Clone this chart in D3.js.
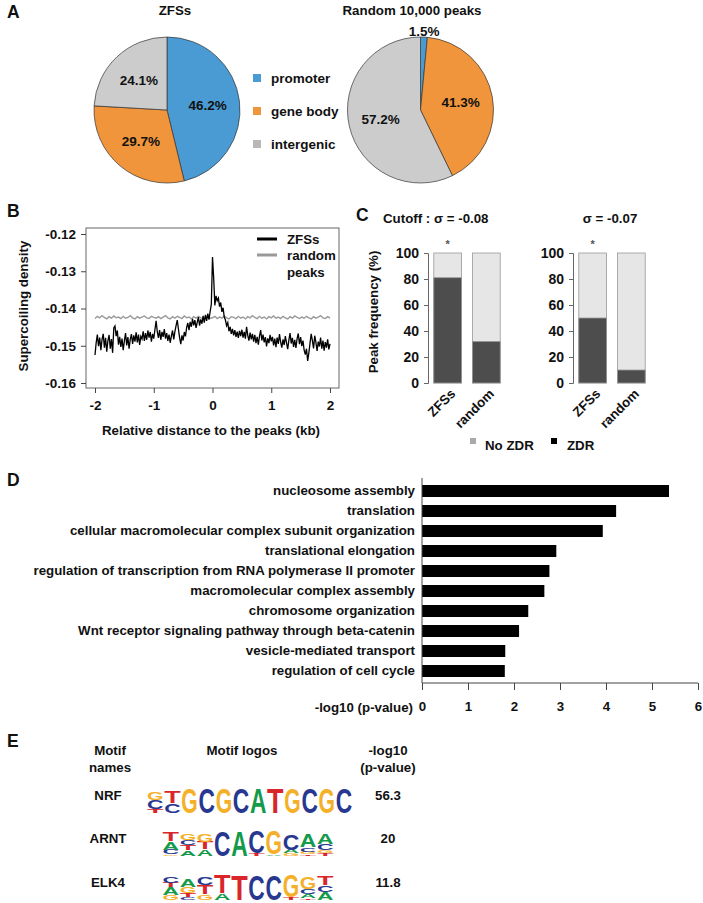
<!DOCTYPE html>
<html><head><meta charset="utf-8">
<script src="https://cdn.jsdelivr.net/npm/d3@7"></script>
<style>
body{margin:0;background:#fff;}
svg text{font-family:"Liberation Sans",Arial,Helvetica,sans-serif;font-weight:bold;fill:#111;}
</style></head><body>
<svg id="fig" width="703" height="903"></svg>
<script>
// ---------------- DATA ----------------
// Panel A
const pieCategories = ["promoter", "gene body", "intergenic"];
const pieColors = ["#4a9bd3", "#f0953b", "#cccccc"];
const pieTitles = ["ZFSs", "Random 10,000 peaks"];
const zfsPieValues = [46.2, 29.7, 24.1];
const randomPieValues = [1.5, 41.3, 57.2];

// Panel B (x from -2 to 2 kb)
const bXTicks = [-2, -1, 0, 1, 2];
const bYTicks = [-0.16, -0.15, -0.14, -0.13, -0.12];
const zfsDensity = [
-0.1525,-0.1492,-0.1470,-0.1501,-0.1478,-0.1512,-0.1483,-0.1468,-0.1505,-0.1479,
-0.1516,-0.1486,-0.1471,-0.1508,-0.1482,-0.1519,-0.1452,-0.1447,-0.1474,-0.1459,
-0.1497,-0.1476,-0.1503,-0.1481,-0.1512,-0.1487,-0.1466,-0.1499,-0.1477,-0.1508,
-0.1483,-0.1469,-0.1495,-0.1472,-0.1489,-0.1464,-0.1491,-0.1470,-0.1498,-0.1475,
-0.1482,-0.1461,-0.1487,-0.1466,-0.1484,-0.1459,-0.1478,-0.1463,-0.1489,-0.1468,
-0.1481,-0.1457,-0.1433,-0.1462,-0.1479,-0.1458,-0.1484,-0.1463,-0.1476,-0.1455,
-0.1481,-0.1466,-0.1487,-0.1470,-0.1492,-0.1474,-0.1459,-0.1483,-0.1462,-0.1446,
-0.1431,-0.1455,-0.1478,-0.1496,-0.1472,-0.1486,-0.1463,-0.1475,-0.1451,-0.1439,
-0.1458,-0.1436,-0.1449,-0.1428,-0.1445,-0.1431,-0.1452,-0.1437,-0.1423,-0.1446,
-0.1429,-0.1441,-0.1420,-0.1438,-0.1417,-0.1433,-0.1414,-0.1430,-0.1408,-0.1389,
-0.1262,-0.1318,-0.1392,-0.1366,-0.1379,-0.1372,-0.1395,-0.1384,-0.1409,-0.1398,
-0.1423,-0.1431,-0.1446,-0.1438,-0.1461,-0.1449,-0.1468,-0.1455,-0.1472,-0.1458,
-0.1476,-0.1462,-0.1479,-0.1460,-0.1474,-0.1457,-0.1478,-0.1463,-0.1481,-0.1449,
-0.1472,-0.1486,-0.1465,-0.1483,-0.1468,-0.1489,-0.1471,-0.1493,-0.1476,-0.1497,
-0.1474,-0.1458,-0.1486,-0.1470,-0.1491,-0.1477,-0.1502,-0.1480,-0.1493,-0.1471,
-0.1488,-0.1476,-0.1499,-0.1481,-0.1504,-0.1478,-0.1495,-0.1469,-0.1490,-0.1505,
-0.1483,-0.1498,-0.1474,-0.1492,-0.1509,-0.1485,-0.1466,-0.1494,-0.1479,-0.1503,
-0.1484,-0.1506,-0.1481,-0.1467,-0.1496,-0.1477,-0.1501,-0.1486,-0.1512,-0.1524,
-0.1508,-0.1541,-0.1519,-0.1493,-0.1468,-0.1486,-0.1507,-0.1473,-0.1491,-0.1514,
-0.1489,-0.1502,-0.1478,-0.1508,-0.1486,-0.1513,-0.1490,-0.1505,-0.1483,-0.1510,
-0.1495];
const randomDensity = [
-0.1427,-0.1421,-0.1425,-0.1419,-0.1424,-0.1428,-0.1422,-0.1426,-0.1420,-0.1425,
-0.1423,-0.1427,-0.1421,-0.1426,-0.1424,-0.1419,-0.1425,-0.1428,-0.1422,-0.1426,
-0.1423,-0.1420,-0.1425,-0.1427,-0.1421,-0.1424,-0.1426,-0.1422,-0.1427,-0.1423,
-0.1419,-0.1425,-0.1428,-0.1422,-0.1426,-0.1421,-0.1424,-0.1427,-0.1420,-0.1425,
-0.1423,-0.1428,-0.1422,-0.1426,-0.1421,-0.1425,-0.1427,-0.1422,-0.1424,-0.1426,
-0.1425,
-0.1421,-0.1427,-0.1423,-0.1426,-0.1420,-0.1425,-0.1428,-0.1422,-0.1424,-0.1427,
-0.1421,-0.1426,-0.1423,-0.1428,-0.1422,-0.1425,-0.1419,-0.1424,-0.1427,-0.1421,
-0.1426,-0.1423,-0.1428,-0.1422,-0.1425,-0.1420,-0.1426,-0.1423,-0.1427,-0.1421,
-0.1425,-0.1428,-0.1422,-0.1426,-0.1420,-0.1424,-0.1427,-0.1423,-0.1426,-0.1421,
-0.1425,-0.1428,-0.1422,-0.1426,-0.1423,-0.1419,-0.1425,-0.1427,-0.1422,-0.1426];
const bSeriesNames = ["ZFSs", "random", "peaks"];

// Panel C
const cCutoffs = ["Cutoff :  \u03c3 = -0.08", "\u03c3 = -0.07"];
const cCategories = ["ZFSs", "random"];
const zdrCutoff008 = [81, 32];
const zdrCutoff007 = [50, 10];
const cYTicks = [0, 20, 40, 60, 80, 100];
const cSignificant = [true, false];
const cLegend = ["No ZDR", "ZDR"];

// Panel D
const goTerms = ["nucleosome assembly", "translation", "cellular macromolecular complex subunit organization",
  "translational elongation", "regulation of transcription from RNA polymerase II promoter",
  "macromolecular complex assembly", "chromosome organization",
  "Wnt receptor signaling pathway through beta-catenin", "vesicle-mediated transport", "regulation of cell cycle"];
const goLog10P = [5.37, 4.22, 3.93, 2.92, 2.77, 2.66, 2.31, 2.11, 1.81, 1.80];
const dXTicks = [0, 1, 2, 3, 4, 5, 6];

// Panel E
const motifNames = ["NRF", "ARNT", "ELK4"];
const motifLog10P = ["56.3", "20", "11.8"];
const nrfLogo = [[["G",0.32],["C",0.36],["T",0.14]], [["T",0.45],["C",0.38]], [["G",1]], [["C",1]], [["G",1]], [["C",1]],
  [["A",0.97]], [["T",1]], [["G",1]], [["C",1]], [["G",1]], [["C",1]]];
const arntLogo = [[["T",0.38],["A",0.32],["C",0.18],["G",0.05]], [["G",0.27],["C",0.2],["T",0.2],["A",0.2]],
  [["G",0.33],["T",0.3],["A",0.24]], [["C",1]], [["A",1]], [["C",0.86],["T",0.08]], [["G",0.94],["A",0.04]],
  [["C",0.62],["A",0.15],["G",0.08]], [["A",0.52],["C",0.17],["G",0.1],["T",0.05]], [["A",0.4],["C",0.25],["G",0.1],["T",0.1]]];
const elk4Logo = [[["C",0.27],["T",0.18],["A",0.3],["G",0.18]], [["A",0.3],["G",0.25],["T",0.17],["C",0.08]],
  [["C",0.3],["T",0.35],["G",0.22]], [["T",0.72],["A",0.24]], [["T",1]], [["C",1]], [["C",1]],
  [["G",0.86],["T",0.1]], [["G",0.45],["C",0.2],["A",0.15],["T",0.05]], [["T",0.35],["C",0.25],["A",0.3]]];
const motifLogos = [nrfLogo, arntLogo, elk4Logo];
const letterColors = {A: "#139a4a", C: "#28378f", G: "#f5b02a", T: "#d8262b"};

// ---------------- DRAW ----------------
const svg = d3.select("#fig");
function txt(parent, x, y, s, size, anchor) {
  return parent.append("text").attr("x", x).attr("y", y).attr("font-size", size)
    .attr("text-anchor", anchor || "start").attr("dominant-baseline", "central").text(s);
}
// panel letters
[["A", 7, 12], ["B", 7, 211], ["C", 356, 215], ["D", 7, 480], ["E", 7, 741]].forEach(p => txt(svg, p[1], p[2], p[0], 17.5));

// ---- Panel A ----
const R = 73;
const pie = d3.pie().sort(null).value(d => d);
const arcGen = d3.arc().innerRadius(0).outerRadius(R);
function drawPie(cx, cy, values, title, titleX) {
  const g = svg.append("g").attr("transform", `translate(${cx},${cy})`);
  const arcs = pie(values);
  g.selectAll("path").data(arcs).join("path").attr("d", arcGen)
    .attr("fill", (d, i) => pieColors[i]).attr("stroke", "#333").attr("stroke-width", 0.7);
  arcs.forEach(a => {
    const r = a.value < 5 ? R * 1.08 : R * 0.56;
    const c = d3.arc().innerRadius(r).outerRadius(r).centroid(a);
    txt(g, c[0], c[1], a.value.toFixed(1) + "%", 13.5, "middle");
  });
  txt(svg, titleX, 10, title, 13.3, "middle");
}
drawPie(167, 110, zfsPieValues, pieTitles[0], 175);
drawPie(420.5, 110, randomPieValues, pieTitles[1], 412);
// legend
const legA = svg.append("g");
pieCategories.forEach((c, i) => {
  const y = 78 + i * 33;
  legA.append("rect").attr("x", 253).attr("y", y - 4).attr("width", 8).attr("height", 8).attr("fill", pieColors[i] === "#cccccc" ? "#b8b8b8" : pieColors[i]);
  txt(legA, 271, y, c, 13.5);
});

// ---- Panel B ----
const bx = d3.scaleLinear().domain([-2, 2]).range([95, 330]);
const by = d3.scaleLinear().domain([-0.16, -0.12]).range([383, 234]);
const gB = svg.append("g");
gB.append("rect").attr("x", 86).attr("y", 228).attr("width", 253).attr("height", 160)
  .attr("fill", "none").attr("stroke", "#666").attr("stroke-width", 1);
const zX = d3.range(zfsDensity.length).map(i => -2 + i * 4 / (zfsDensity.length - 1));
const rX = d3.range(randomDensity.length).map(i => -2 + i * 4 / (randomDensity.length - 1));
gB.append("path").datum(randomDensity).attr("fill", "none").attr("stroke", "#999").attr("stroke-width", 1.4)
  .attr("d", d3.line().x((d, i) => bx(rX[i])).y(d => by(d)));
gB.append("path").datum(zfsDensity).attr("fill", "none").attr("stroke", "#000").attr("stroke-width", 1.3)
  .attr("d", d3.line().x((d, i) => bx(zX[i])).y(d => by(d)));
const yAxB = gB.append("g").attr("transform", "translate(86,0)").attr("color", "#444")
  .call(d3.axisLeft(by).tickValues(bYTicks).tickSize(5).tickPadding(5).tickFormat(d => d.toFixed(2)));
yAxB.select(".domain").remove();
yAxB.selectAll("text").attr("font-size", 13.5);
const xAxB = gB.append("g").attr("transform", "translate(0,388)").attr("color", "#444")
  .call(d3.axisBottom(bx).tickValues(bXTicks).tickSize(5).tickPadding(7).tickFormat(d => String(d)));
xAxB.select(".domain").remove();
xAxB.selectAll("text").attr("font-size", 13.5);
txt(gB, 211, 430, "Relative distance to the peaks (kb)", 13.3, "middle");
txt(gB, 0, 0, "Supercoiling density", 13.3, "middle").attr("transform", "translate(23,306) rotate(-90)");
// legend B
gB.append("line").attr("x1", 257).attr("x2", 277).attr("y1", 239).attr("y2", 239).attr("stroke", "#000").attr("stroke-width", 3);
gB.append("line").attr("x1", 257).attr("x2", 277).attr("y1", 255).attr("y2", 255).attr("stroke", "#999").attr("stroke-width", 3);
txt(gB, 287, 239, bSeriesNames[0], 13.3);
txt(gB, 287, 255, bSeriesNames[1], 13.3);
txt(gB, 287, 272, bSeriesNames[2], 13.3);

// ---- Panel C ----
const cy = d3.scaleLinear().domain([0, 100]).range([383, 253]);
function drawC(axisX, values, title, titleX, titleAnchor) {
  const g = svg.append("g");
  const xb = d3.scaleBand().domain(cCategories).range([axisX, axisX + 78]).paddingInner(0.28).paddingOuter(0.15);
  cCategories.forEach((c, i) => {
    g.append("rect").attr("x", xb(c)).attr("width", xb.bandwidth()).attr("y", cy(100)).attr("height", cy(0) - cy(100))
      .attr("fill", "#e6e6e6").attr("stroke", "#999").attr("stroke-width", 0.8);
    g.append("rect").attr("x", xb(c)).attr("width", xb.bandwidth()).attr("y", cy(values[i])).attr("height", cy(0) - cy(values[i]))
      .attr("fill", "#4d4d4d").attr("stroke", "#999").attr("stroke-width", 0.8);
    const cxm = xb(c) + xb.bandwidth() / 2;
    g.append("text").attr("font-size", 13.3).attr("text-anchor", "end").attr("dy", "0.7em")
      .attr("transform", `translate(${cxm + 2},${388}) rotate(-45)`).text(c);
    if (cSignificant[i]) txt(g, cxm, 244, "*", 11, "middle").style("fill", "#555");
  });
  const ax = g.append("g").attr("transform", `translate(${axisX},0)`).attr("color", "#666")
    .call(d3.axisLeft(cy).tickValues(cYTicks).tickSize(4).tickPadding(5));
  ax.selectAll("text").attr("font-size", 14);
  txt(g, titleX, 218, title, 13.3, titleAnchor);
}
drawC(428, zdrCutoff008, cCutoffs[0], 383, "start");
drawC(573, zdrCutoff007, cCutoffs[1], 610, "middle");
txt(svg, 0, 0, "Peak frequency (%)", 13.3, "middle").attr("transform", "translate(373,312) rotate(-90)");
svg.append("rect").attr("x", 470).attr("y", 438).attr("width", 6).attr("height", 6).attr("fill", "#aaa");
txt(svg, 485, 445, cLegend[0], 13.3);
svg.append("rect").attr("x", 551).attr("y", 438).attr("width", 6).attr("height", 6).attr("fill", "#000");
txt(svg, 567, 445, cLegend[1], 13.3);

// ---- Panel D ----
const dx = d3.scaleLinear().domain([0, 6]).range([422, 698]);
const dy = d3.scaleBand().domain(goTerms).range([481, 681]).paddingInner(0.4).paddingOuter(0.2);
const gD = svg.append("g");
gD.selectAll("rect.bar").data(goTerms).join("rect").attr("class", "bar")
  .attr("x", dx(0)).attr("y", d => dy(d)).attr("height", dy.bandwidth())
  .attr("width", (d, i) => dx(goLog10P[i]) - dx(0)).attr("fill", "#000");
const yAxD = gD.append("g").attr("transform", `translate(${dx(0)},0)`)
  .call(d3.axisLeft(dy).tickSize(0).tickPadding(7));
yAxD.select(".domain").remove();
yAxD.selectAll("text").attr("font-size", 13.3);
gD.append("line").attr("x1", dx(0)).attr("x2", dx(0)).attr("y1", 478).attr("y2", 683).attr("stroke", "#444");
const xAxD = gD.append("g").attr("transform", "translate(0,683)").attr("color", "#444")
  .call(d3.axisBottom(dx).tickValues(dXTicks).tickSize(7).tickPadding(12).tickFormat(d => String(d)));
xAxD.select(".domain").attr("d", `M${dx(0)},0H${dx(6)}`);
xAxD.selectAll("text").attr("font-size", 13.3);
txt(gD, 413, 707, "-log10 (p-value)", 13.3, "end");

// ---- Panel E ----
const gE = svg.append("g");
txt(gE, 110, 750, "Motif", 13.3, "middle");
txt(gE, 110, 767, "names", 13.3, "middle");
txt(gE, 242, 750, "Motif logos", 13.3, "middle");
txt(gE, 388, 750, "-log10", 13.3, "middle");
txt(gE, 388, 767, "(p-value)", 13.3, "middle");
const rowY = [795, 838, 882];
const logoStart = [147, 162.5, 162.5];
const posW = 17.1, fullH = 25.5;
motifNames.forEach((m, k) => {
  txt(gE, 108, rowY[k], m, 13.3, "middle");
  txt(gE, 388, rowY[k], motifLog10P[k], 13.3, "middle");
  const logo = motifLogos[k];
  const px = d3.scaleBand().domain(d3.range(logo.length)).range([logoStart[k], logoStart[k] + posW * logo.length]).paddingInner(0.04);
  const hy = d3.scaleLinear().domain([0, 1]).range([0, fullH]);
  const bottom = rowY[k] + 17.5;
  logo.forEach((stack, p) => {
    let yb = bottom;
    stack.slice().reverse().forEach(([L, h]) => {
      const hh = hy(h);
      const t = gE.append("text").attr("font-size", 100).attr("x", 0).attr("y", 0)
        .style("fill", letterColors[L]).text(L);
      const w = t.node().getComputedTextLength();
      const sx = px.bandwidth() / w, sy = hh / 72;
      t.attr("transform", `translate(${px(p)},${yb}) scale(${sx},${sy})`);
      yb -= hh;
    });
  });
});
</script>
</body></html>
